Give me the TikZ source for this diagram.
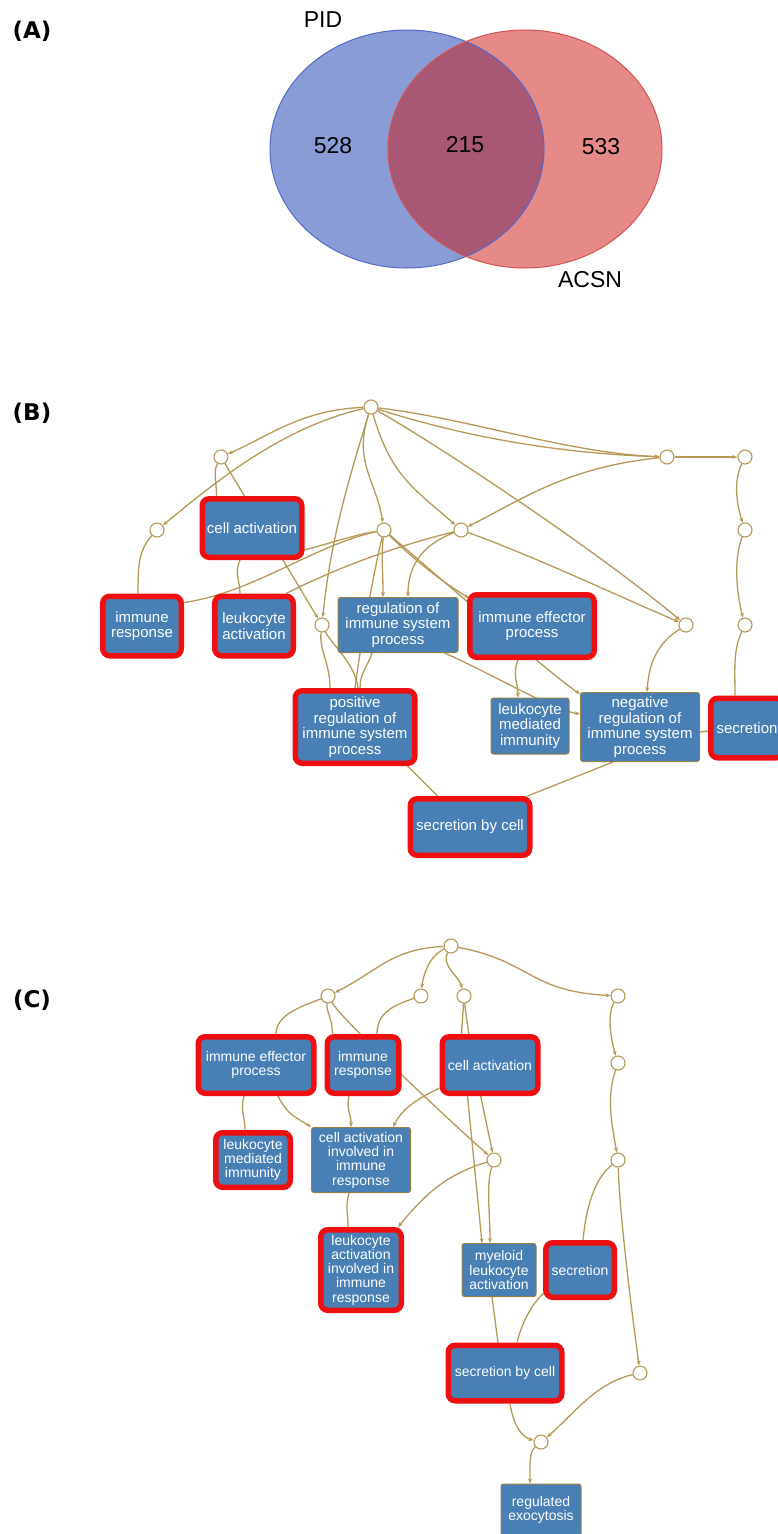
\documentclass[tikz,border=0pt]{standalone}
\usepackage{fontspec}
\setmainfont{Liberation Sans}
\newfontfamily\labfont{DejaVu Sans}
\usetikzlibrary{arrows.meta,calc}
\definecolor{edgec}{RGB}{184,152,86}
\definecolor{boxblue}{RGB}{72,127,180}
\definecolor{hired}{RGB}{238,16,16}
\definecolor{boxedge}{RGB}{150,128,72}
\definecolor{vblue}{RGB}{138,156,214}
\definecolor{vblueline}{RGB}{84,104,200}
\definecolor{vred}{RGB}{229,137,137}
\definecolor{vredline}{RGB}{215,82,82}
\definecolor{vmix}{RGB}{168,88,117}
\pgfdeclarelayer{bg}
\pgfsetlayers{bg,main}
\tikzset{
  edge/.style={draw=edgec, line width=1.3pt},
  arr/.style={edge, -{Stealth[length=5pt,width=4pt]}},
  hub/.style={circle, draw=edgec, fill=white, line width=1.1pt, minimum size=14pt, inner sep=0pt},
  redbox/.style={rectangle, rounded corners=7pt, fill=boxblue, draw=hired, line width=5.5pt, text=white, align=center, inner sep=1pt},
  plainbox/.style={rectangle, rounded corners=2.5pt, fill=boxblue, draw=boxedge, line width=1pt, text=white, align=center, inner sep=1pt},
  bf/.style={font=\fontsize{15}{15.5}\selectfont},
  cf/.style={font=\fontsize{14}{14.3}\selectfont},
  vlab/.style={font=\fontsize{23}{23}\selectfont, inner sep=0pt},
  panel/.style={font=\labfont\bfseries\fontsize{23}{23}\selectfont, inner sep=0pt},
}
\begin{document}
\begin{tikzpicture}[x=1pt,y=-1pt]
\useasboundingbox (0,0) rectangle (777,1534);
\begin{pgfonlayer}{bg}
\fill[white] (0,0) rectangle (777,1534);
\end{pgfonlayer}

% ---------------- Panel A ----------------
\node[panel] (pA) at (32,31) {(A)};
\fill[vblue] (407,149) ellipse [x radius=137pt, y radius=119pt];
\fill[vred] (525,149) ellipse [x radius=137pt, y radius=119pt];
\begin{scope}
\clip (407,149) ellipse [x radius=137pt, y radius=119pt];
\fill[vmix] (525,149) ellipse [x radius=137pt, y radius=119pt];
\end{scope}
\draw[vblueline, line width=1pt] (407,149) ellipse [x radius=137pt, y radius=119pt];
\draw[vredline, line width=1pt] (525,149) ellipse [x radius=137pt, y radius=119pt];
\node[vlab] (tPID) at (323,20) {PID};
\node[vlab] (t528) at (333,146) {528};
\node[vlab] (t215) at (465,145) {215};
\node[vlab] (t533) at (601,147) {533};
\node[vlab] (tACSN) at (590,280) {ACSN};

% ---------------- Panel B ----------------
\node[panel] (pB) at (32,413) {(B)};
\node[hub] (b0) at (371,407) {};
\node[hub] (b1) at (221,457) {};
\node[hub] (b2) at (157,530) {};
\node[hub] (b3) at (384,530) {};
\node[hub] (b4) at (461,530) {};
\node[hub] (b5) at (667,457) {};
\node[hub] (b6) at (745,457) {};
\node[hub] (b7) at (745,530) {};
\node[hub] (b8) at (322,625) {};
\node[hub] (b9) at (686,625) {};
\node[hub] (b10) at (745,625) {};

\node[redbox,bf,minimum width=99.5pt,minimum height=58.5pt] (Bca) at (252,528) {cell activation};
\node[redbox,bf,minimum width=78.5pt,minimum height=59.5pt] (Bir) at (142,626) {immune\\response};
\node[redbox,bf,minimum width=78.5pt,minimum height=59.5pt] (Bla) at (254,626) {leukocyte\\activation};
\node[plainbox,bf,minimum width=120pt,minimum height=55pt] (Breg) at (398,625) {regulation of\\immune system\\process};
\node[redbox,bf,minimum width=124.5pt,minimum height=62.5pt] (Bief) at (532,626) {immune effector\\process};
\node[redbox,bf,minimum width=119.5pt,minimum height=72.5pt] (Bpos) at (355,727) {positive\\regulation of\\immune system\\process};
\node[plainbox,bf,minimum width=78pt,minimum height=56pt] (Blmi) at (530,726) {leukocyte\\mediated\\immunity};
\node[plainbox,bf,minimum width=119pt,minimum height=69pt] (Bneg) at (640,727) {negative\\regulation of\\immune system\\process};
\node[redbox,bf,minimum width=72.5pt,minimum height=59.5pt] (Bsec) at (747,728) {secretion};
\node[redbox,bf,minimum width=119.5pt,minimum height=56.5pt] (Bsbc) at (470,827) {secretion by cell};

\begin{pgfonlayer}{bg}
\draw[arr] (b0) .. controls +(-70,3) and +(50,-22) .. (b1);
\draw[arr] (b0) .. controls +(-90,20) and +(55,-45) .. (b2);
\draw[arr] (b0) .. controls +(-25,80) and +(8,-80) .. (b8);
\draw[arr] (b0) .. controls +(-18,55) and +(-8,-50) .. (b3);
\draw[arr] (b0) .. controls +(20,70) and +(-45,-40) .. (b4);
\draw[arr] (b0) .. controls +(100,12) and +(-100,-4) .. (b5);
\draw[arr] (b0) .. controls +(110,35) and +(-90,-3) .. (b5);
\draw[arr] (b5) -- (b6);
\draw[arr] (b0) .. controls +(70,40) and +(-90,-75) .. (b9);
\draw[arr] (b5) .. controls +(-100,10) and +(60,-30) .. (b4);
\draw[arr] (b4) .. controls +(70,25) and +(-70,-30) .. (b9);
\draw[arr] (b6) .. controls +(-12,25) and +(-8,-25) .. (b7);
\draw[arr] (b7) .. controls +(-12,30) and +(-8,-30) .. (b10);
\draw[edge] (b10) .. controls +(-12,25) and +(0,-25) .. ($(Bsec.north)+(-12,0)$);
\draw[arr] (b9) .. controls +(-28,18) and +(2,-30) .. ($(Bneg.north)+(7,0)$);
\draw[edge] (b1) .. controls +(-8,15) and +(0,-15) .. ($(Bca.north west)+(17,0)$);
\draw[arr] (b1) -- (b8);
\draw[edge] (b2) .. controls +(-18,20) and +(0,-30) .. ($(Bir.north)+(-4,0)$);
\draw[edge] ($(Bca.south)+(-12,0)$) .. controls +(-6,12) and +(0,-12) .. ($(Bla.north)+(-14,0)$);
\draw[edge] (b3) .. controls +(-70,15) and +(70,-10) .. ($(Bir.north east)+(0,9)$);
\draw[edge] (b3) .. controls +(-30,5) and +(30,-8) .. ($(Bca.south east)+(0,-10)$);
\draw[edge] (b4) .. controls +(-80,20) and +(40,-20) .. ($(Bla.north east)+(-10,0)$);
\draw[arr] (b3) .. controls +(-3,30) and +(0,-30) .. ($(Breg.north)+(-15,0)$);
\draw[edge] (b3) .. controls +(-10,40) and +(5,-40) .. (Bpos.north);
\draw[arr] (b4) .. controls +(-40,15) and +(0,-30) .. ($(Breg.north)+(10,0)$);
\draw[arr] (b3) .. controls +(30,30) and +(-25,-15) .. ($(Bief.north west)+(2,6)$);
\draw[arr] (b3) .. controls +(35,30) and +(-30,-20) .. ($(Bneg.north west)+(0,2)$);
\draw[arr] ($(Breg.south east)+(-14,0)$) .. controls +(50,22) and +(-30,-5) .. ($(Bneg.west)+(0,-13)$);
\draw[arr] ($(Bief.south)+(-14,0)$) .. controls +(-6,15) and +(0,-15) .. ($(Blmi.north)+(-12,0)$);
\draw[edge] ($(Bneg.east)+(0,5)$) -- ($(Bsec.west)+(0,3)$);
\draw[edge] ($(Bpos.south east)+(-10,0)$) -- ($(Bsbc.north west)+(30,0)$);
\draw[edge] ($(Bneg.south)+(-27,0)$) -- ($(Bsbc.north east)+(-5,0)$);
\draw[edge] (b8) .. controls +(-3,25) and +(0,-25) .. ($(Bpos.north)+(-25,0)$);
\draw[edge] (b8) .. controls +(10,20) and +(-3,-25) .. ($(Bpos.north)+(3,0)$);
\draw[edge] ($(Breg.south)+(-26,0)$) .. controls +(-5,15) and +(0,-15) .. ($(Bpos.north)+(5,0)$);
\end{pgfonlayer}

% ---------------- Panel C ----------------
\node[panel] (pC) at (32,1000) {(C)};
\node[hub] (c0) at (451,946) {};
\node[hub] (c1) at (328,996) {};
\node[hub] (c2) at (421,996) {};
\node[hub] (c3) at (464,996) {};
\node[hub] (c4) at (618,996) {};
\node[hub] (c5) at (618,1063) {};
\node[hub] (c6) at (618,1160) {};
\node[hub] (c7) at (494,1160) {};
\node[hub] (c8) at (640,1373) {};
\node[hub] (c9) at (541,1442) {};

\node[redbox,cf,minimum width=115.5pt,minimum height=56.5pt] (Cief) at (256,1065) {immune effector\\process};
\node[redbox,cf,minimum width=71.5pt,minimum height=56.5pt] (Cir) at (363,1065) {immune\\response};
\node[redbox,cf,minimum width=95.5pt,minimum height=56.5pt] (Cca) at (490,1065) {cell activation};
\node[redbox,cf,minimum width=74.5pt,minimum height=54.5pt] (Clmi) at (253,1160) {leukocyte\\mediated\\immunity};
\node[plainbox,cf,minimum width=99pt,minimum height=65pt] (Ccai) at (361,1160) {cell activation\\involved in\\immune\\response};
\node[redbox,cf,minimum width=80.5pt,minimum height=80.5pt] (Claii) at (361,1270) {leukocyte\\activation\\involved in\\immune\\response};
\node[plainbox,cf,minimum width=74pt,minimum height=53pt] (Cmla) at (499,1270) {myeloid\\leukocyte\\activation};
\node[redbox,cf,minimum width=68.5pt,minimum height=54.5pt] (Csec) at (580,1270) {secretion};
\node[redbox,cf,minimum width=113.5pt,minimum height=55.5pt] (Csbc) at (505,1373) {secretion by cell};
\node[plainbox,cf,minimum width=80pt,minimum height=52pt] (Creg) at (541,1510) {regulated\\exocytosis};

\begin{pgfonlayer}{bg}
\draw[arr] (c0) .. controls +(-60,3) and +(50,-25) .. (c1);
\draw[arr] (c0) .. controls +(-22,10) and +(2,-20) .. (c2);
\draw[arr] (c0) .. controls +(-10,20) and +(-5,-20) .. (c3);
\draw[arr] (c0) .. controls +(80,15) and +(-90,-5) .. (c4);
\draw[arr] (c4) .. controls +(-12,20) and +(-6,-20) .. (c5);
\draw[arr] (c5) .. controls +(-12,35) and +(-6,-35) .. (c6);
\draw[edge] (c1) .. controls +(-25,10) and +(0,-20) .. ($(Cief.north)+(20,0)$);
\draw[edge] (c1) .. controls +(-2,15) and +(0,-15) .. ($(Cir.north west)+(8,0)$);
\draw[arr] (c1) .. controls +(15,25) and +(-40,-35) .. (c7);
\draw[edge] (c2) .. controls +(-30,10) and +(0,-20) .. ($(Cir.north)+(14,0)$);
\draw[edge] (c3) -- ($(Cca.north west)+(22,0)$);
\draw[arr] (c3) .. controls +(5,50) and +(-8,-40) .. (c7);
\draw[arr] (c7) .. controls +(-8,25) and +(0,-30) .. ($(Cmla.north)+(-9,0)$);
\draw[arr] ($(Cca.south west)+(28,0)$) -- ($(Cmla.north)+(-17,0)$);
\draw[edge] ($(Cief.south)+(-12,0)$) .. controls +(-4,15) and +(0,-15) .. ($(Clmi.north)+(-8,0)$);
\draw[arr] ($(Cief.south)+(22,0)$) .. controls +(10,20) and +(-15,-10) .. (Ccai.north west);
\draw[arr] ($(Cir.south)+(-14,0)$) .. controls +(-3,15) and +(0,-15) .. ($(Ccai.north)+(-10,0)$);
\draw[arr] ($(Cca.south west)+(0,-8)$) .. controls +(-20,10) and +(10,-20) .. ($(Ccai.north east)+(-18,0)$);
\draw[arr] (c7) .. controls +(-50,15) and +(25,-30) .. ($(Claii.north east)+(-6,0)$);
\draw[edge] ($(Ccai.south)+(-12,0)$) .. controls +(-4,15) and +(0,-15) .. ($(Claii.north)+(-13,0)$);
\draw[edge] (c6) .. controls +(-25,20) and +(3,-30) .. ($(Csec.north)+(3,0)$);
\draw[arr] (c6) .. controls +(2,60) and +(-8,-60) .. (c8);
\draw[edge] ($(Cmla.south)+(-7,0)$) -- ($(Csbc.north)+(-7,0)$);
\draw[edge] ($(Csec.south west)+(5,-10)$) .. controls +(-15,10) and +(5,-20) .. ($(Csbc.north)+(12,0)$);
\draw[arr] ($(Csbc.south)+(5,0)$) .. controls +(3,20) and +(-20,-5) .. (c9);
\draw[arr] (c8) .. controls +(-45,10) and +(30,-25) .. (c9);
\draw[arr] (c9) .. controls +(-12,10) and +(0,-20) .. ($(Creg.north)+(-11,0)$);
\end{pgfonlayer}
\end{tikzpicture}
\end{document}
